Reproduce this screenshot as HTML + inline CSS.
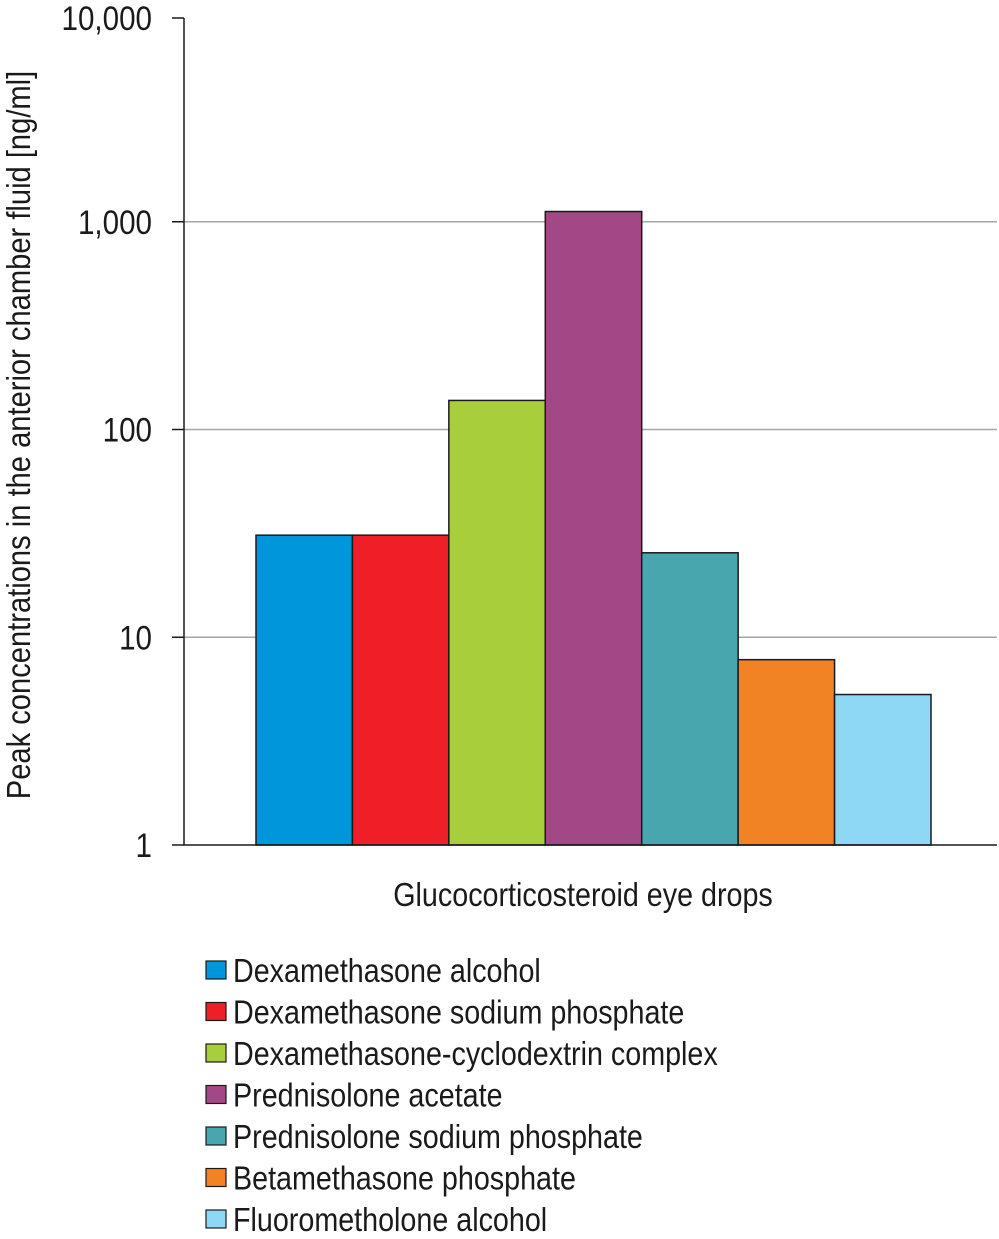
<!DOCTYPE html>
<html><head><meta charset="utf-8"><style>
html,body{margin:0;padding:0;background:#fff}
svg text{font-family:"Liberation Sans Narrow","Liberation Sans",sans-serif;fill:#1a1a1a}
</style></head><body>
<svg id="chart" width="999" height="1234" xmlns="http://www.w3.org/2000/svg"></svg>
<script>
const categories=["Dexamethasone alcohol","Dexamethasone sodium phosphate","Dexamethasone-cyclodextrin complex","Prednisolone acetate","Prednisolone sodium phosphate","Betamethasone phosphate","Fluorometholone alcohol"];
const values=[31,31,138,1120,25.5,7.8,5.3];
const colors=["#0096db","#ee1f27","#a8cf3b","#a34886","#48a7ae","#f28324","#8fd8f5"];
const tickValues=[1,10,100,1000,10000];
const tickLabels=["1","10","100","1,000","10,000"];
const NS="http://www.w3.org/2000/svg";
const svg=document.getElementById('chart');
const plotL=184,plotR=997,yTop=14,yBot=845,barL=256,barR=931,axisTop=18;
function y(v){return Math.max(axisTop,yBot-(Math.log10(v)/4)*(yBot-yTop));}
function x(i){return barL+i*(barR-barL)/categories.length;}
const bw=(barR-barL)/categories.length;
const SX=0.87;
function mk(t,a){const e=document.createElementNS(NS,t);for(const k in a)e.setAttribute(k,a[k]);svg.appendChild(e);return e;}
function txt(tx,ty,s,size,anchor,extra){const t=mk('text',{x:0,y:0,'font-size':size,'text-anchor':anchor||'start',transform:`translate(${tx},${ty}) ${extra||''} scale(${SX},1)`});t.textContent=s;return t;}
tickValues.forEach((v,i)=>{
 if(i>0&&i<4){const g=mk('line',{x1:plotL,x2:plotR,y1:y(v),y2:y(v),stroke:'#a6a6a6','stroke-width':1.5});
 
 }
 const tk=mk('line',{x1:172,x2:plotL,y1:y(v),y2:y(v),stroke:'#1a1a1a','stroke-width':1.5});
 
 
 const t=txt(152,y(v)+12,tickLabels[i],34,'end');
 
 
});
values.forEach((v,i)=>{
 const r=mk('rect',{x:x(i),y:y(v),width:bw,height:yBot-y(v),fill:colors[i],stroke:'#1a1a1a','stroke-width':1.5});
 
 
});
const ax=mk('path',{d:`M${plotL} ${axisTop}V${yBot}H${plotR}`,fill:'none',stroke:'#1a1a1a','stroke-width':1.5});


const yt=txt(30,435,"Peak concentrations in the anterior chamber fluid [ng/ml]",33.5,'middle','rotate(-90)');


const xt=txt(583,906,"Glucocorticosteroid eye drops",33,'middle');


categories.forEach((c,i)=>{
 const yy=970+i*41.5;
 const s=mk('rect',{x:206,y:yy-9,width:20,height:18,fill:colors[i],stroke:'#1a1a1a','stroke-width':1.2});
 
 
 const t=txt(233,yy+12,c,33);
 
 
});
</script>
</body></html>
